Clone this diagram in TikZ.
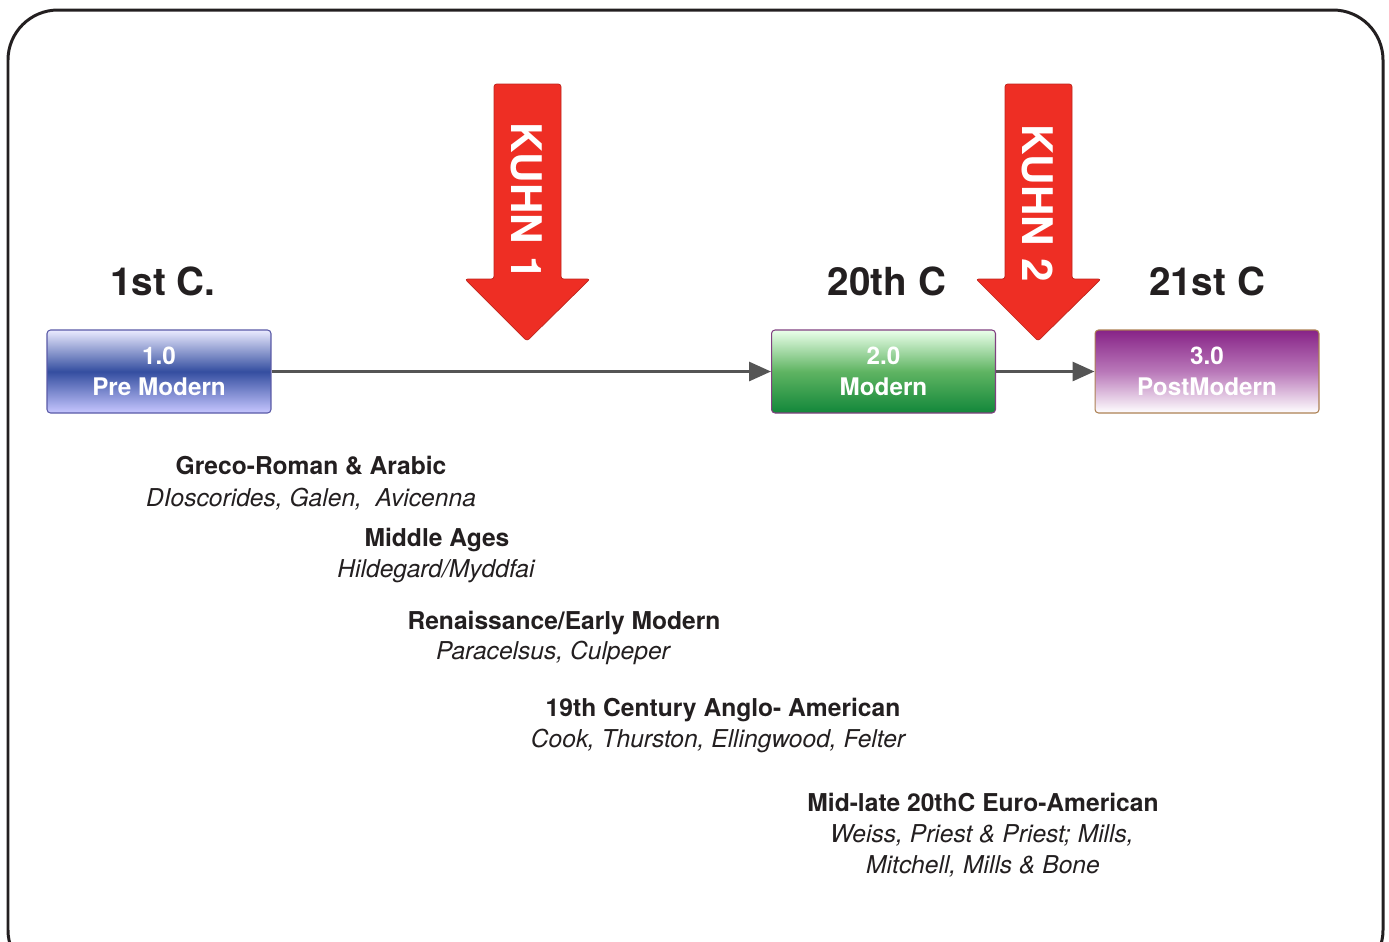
\documentclass[tikz,border=0pt]{standalone}
\usepackage{fontspec}
\setmainfont{TeX Gyre Heros}
\usetikzlibrary{arrows.meta}
\definecolor{ink}{HTML}{231F20}
\definecolor{kuhnred}{HTML}{EE2E24}
\definecolor{linegray}{HTML}{555555}

\begin{document}
\begin{tikzpicture}[x=0.02cm, y=-0.02cm,
    era/.style={draw=#1, line width=0.6pt, rounded corners=2pt,
        minimum width=4.48cm, minimum height=1.66cm, text=white, align=center,
        font=\fontsize{13.8}{18}\selectfont\bfseries},
    century/.style={anchor=base, text=ink, font=\fontsize{22}{26}\selectfont\bfseries},
    school/.style={anchor=base, text=ink, inner sep=0pt, font=\fontsize{14}{17}\selectfont\bfseries},
    names/.style={anchor=base, text=ink, inner sep=0pt, font=\fontsize{14}{17}\selectfont\itshape},
    kuhn/.style={fill=kuhnred, draw=kuhnred!80!black, line width=0.4pt, rounded corners=1.5pt},
    link/.style={draw=linegray, line width=1.7pt, -{Triangle[length=0.44cm, width=0.38cm]}}]
    \useasboundingbox (0,0) rectangle (1389,941);
    \draw [ink, line width=1.7pt, rounded corners=1cm] (8,10) rectangle (1383,980);

    % eras
    \node [era=blue!30!gray, top color=blue!8, bottom color=blue!22, middle color={rgb,255:red,52;green,78;blue,160}] (pre) at (159,371.5) {1.0\\Pre Modern};
    \node [era=violet!50!gray, top color=green!8, bottom color={rgb,255:red,18;green,135;blue,58}, middle color={rgb,255:red,95;green,180;blue,98}] (modern) at (883.5,371.5) {2.0\\Modern};
    \node [era=brown!70!gray, top color={rgb,255:red,135;green,35;blue,135}, bottom color=white, middle color={rgb,255:red,185;green,120;blue,185}] (post) at (1207,371.5) {3.0\\PostModern};
    \draw [link] (pre) -- (modern);
    \draw [link] (modern) -- (post);

    % centuries
    \node [century] (c1) at (163,295) {1st C.};
    \node [century] (c20) at (887,295) {20th C};
    \node [century] (c21) at (1207,295) {21st C};

    % paradigm shifts
    \filldraw [kuhn] (494,84) -- (561,84) -- (561,279) -- (590,279) -- (527,341) -- (465,279) -- (494,279) -- cycle;
    \filldraw [kuhn] (1005,84) -- (1072,84) -- (1072,279) -- (1101,279) -- (1038,341) -- (976,279) -- (1005,279) -- cycle;
    \node [rotate=-90, text=white, font=\fontsize{24}{28}\selectfont\bfseries] (k1) at (527,201) {KUHN 1};
    \node [rotate=-90, text=white, font=\fontsize{24}{28}\selectfont\bfseries] (k2) at (1038,203) {KUHN 2};

    % traditions
    \node [school] (greco) at (311,474) {Greco-Roman \& Arabic};
    \node [names] (greconames) at (311,506) {DIoscorides, Galen,\ \ Avicenna};
    \node [school] (middle) at (437,546) {Middle Ages};
    \node [names] (middlenames) at (436,577) {Hildegard/Myddfai};
    \node [school] (renaiss) at (564,629) {Renaissance/Early Modern};
    \node [names] (renaissnames) at (553,659) {Paracelsus, Culpeper};
    \node [school] (anglo) at (723,716) {19th Century Anglo- American};
    \node [names] (anglonames) at (718,747) {Cook, Thurston, Ellingwood, Felter};
    \node [school] (euro) at (983,811) {Mid-late 20thC Euro-American};
    \node [names] (euronames) at (982,842) {Weiss, Priest \& Priest; Mills,};
    \node [names] (euronames2) at (983,873) {Mitchell, Mills \& Bone};
\end{tikzpicture}
\end{document}
